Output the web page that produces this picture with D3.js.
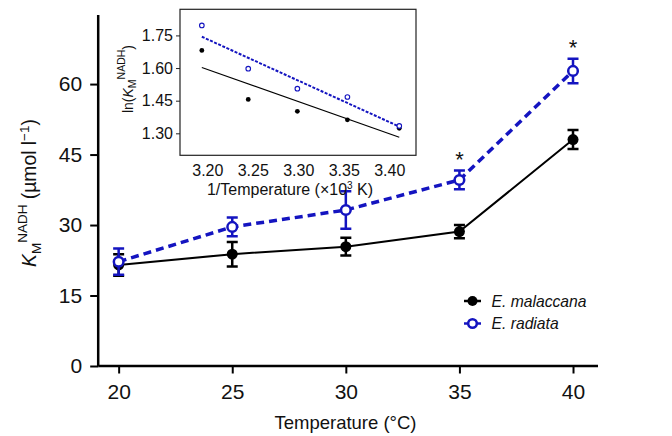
<!DOCTYPE html>
<html><head><meta charset="utf-8">
<script src="https://cdn.jsdelivr.net/npm/d3@7"></script>
<style>body{margin:0;background:#fff}svg{display:block;font-family:Arial,"Liberation Sans",sans-serif}</style>
</head><body><svg id="c" width="672" height="436"></svg>
<script>
// Main chart data
const temps = [20, 25, 30, 35, 40];
const malaccana = [21.5, 23.8, 25.4, 28.6, 48.2];
const malaccanaErr = [2.3, 2.6, 1.9, 1.4, 2.0];
const radiata = [22.2, 29.6, 33.2, 39.6, 62.8];
const radiataErr = [2.8, 2.0, 4.0, 2.0, 2.6];
const starAt = [35, 40];
const yTicks = [0, 15, 30, 45, 60];
const xTicks = [20, 25, 30, 35, 40];
// Inset data
const invT = [3.194, 3.245, 3.299, 3.354, 3.411];
const lnMal = [1.681, 1.456, 1.401, 1.362, 1.323];
const lnRad = [1.796, 1.597, 1.505, 1.467, 1.334];
const fitX = [3.194, 3.411];
const fitMal = [1.603, 1.282];
const fitRad = [1.744, 1.331];
const insetYTicks = [1.30, 1.45, 1.60, 1.75];
const insetXTicks = [3.20, 3.25, 3.30, 3.35, 3.40];

const BLUE = "#1414c0";
const svg = d3.select("#c");

const x = d3.scaleLinear().domain([19.1, 41.1]).range([98.2, 598]);
const y = d3.scaleLinear().domain([0, 74.7]).range([366, 15]);

// axes
const gx = svg.append("g").attr("transform", "translate(0,366)")
  .call(d3.axisBottom(x).tickValues(xTicks).tickSize(7.5).tickPadding(10.8).tickFormat(d3.format("d")));
gx.select(".domain").attr("stroke-width", 2.5).attr("d", `M${x.range()[0]},0H${x.range()[1]}`);
gx.selectAll(".tick line").attr("stroke-width", 2);
gx.selectAll("text").attr("font-size", 21).attr("fill", "#111");

const gy = svg.append("g").attr("transform", "translate(98.2,0)")
  .call(d3.axisLeft(y).tickValues(yTicks).tickSize(8).tickPadding(8));
gy.select(".domain").attr("stroke-width", 2.5).attr("d", `M0,${y.range()[0]}V${y.range()[1]}`);
gy.selectAll(".tick line").attr("stroke-width", 2);
gy.selectAll("text").attr("font-size", 21).attr("fill", "#111");

// axis titles
svg.append("text").attr("x", 345.5).attr("y", 429).attr("text-anchor", "middle")
  .attr("font-size", 18.5).attr("fill", "#111").text("Temperature (°C)");
const yl = svg.append("text").attr("transform", "translate(36,193) rotate(-90)")
  .attr("text-anchor", "middle").attr("font-size", 19.3).attr("fill", "#111");
yl.append("tspan").attr("font-style", "italic").text("K");
yl.append("tspan").attr("font-size", 13.5).attr("dy", 5).text("M");
yl.append("tspan").attr("font-size", 13.5).attr("dy", -14).text("NADH");
yl.append("tspan").attr("dy", 9).text(" (µmol l");
yl.append("tspan").attr("font-size", 13.5).attr("dy", -7).text("−1");
yl.append("tspan").attr("dy", 7).text(")");

// series
function series(vals, errs, color, open, dash, lw) {
  const line = d3.line().x((d, i) => x(temps[i])).y(d => y(d));
  svg.append("path").datum(vals).attr("d", line).attr("fill", "none")
    .attr("stroke", color).attr("stroke-width", lw).attr("stroke-dasharray", dash);
  const g = svg.append("g");
  vals.forEach((v, i) => {
    const cx = x(temps[i]);
    g.append("path").attr("d",
      `M${cx},${y(v + errs[i])}V${y(v - errs[i])}M${cx - 5.5},${y(v + errs[i])}H${cx + 5.5}M${cx - 5.5},${y(v - errs[i])}H${cx + 5.5}`)
      .attr("stroke", color).attr("stroke-width", 2.5).attr("fill", "none");
    g.append("circle").attr("cx", cx).attr("cy", y(v)).attr("r", open ? 4.8 : 5.5)
      .attr("fill", open ? "#fff" : color).attr("stroke", color).attr("stroke-width", open ? 2.5 : 0);
  });
}
series(malaccana, malaccanaErr, "#000", false, null, 2);
series(radiata, radiataErr, BLUE, true, "8,5", 3.5);

// asterisks
starAt.forEach(t => {
  const i = temps.indexOf(t);
  svg.append("text").attr("x", x(t)).attr("y", y(radiata[i] + radiataErr[i]) - 4)
    .attr("text-anchor", "middle").attr("font-size", 22).attr("fill", "#111").text("*");
});

// legend
const leg = [["E. malaccana", "#000", false], ["E. radiata", BLUE, true]];
leg.forEach((l, i) => {
  const ly = 301 + i * 22.5;
  svg.append("line").attr("x1", 464).attr("x2", 481).attr("y1", ly).attr("y2", ly)
    .attr("stroke", l[1]).attr("stroke-width", 2.5);
  svg.append("circle").attr("cx", 472.5).attr("cy", ly).attr("r", l[2] ? 4.3 : 5)
    .attr("fill", l[2] ? "#fff" : l[1]).attr("stroke", l[1]).attr("stroke-width", l[2] ? 2.5 : 0);
  svg.append("text").attr("x", 491.5).attr("y", ly + 5.5).attr("font-size", 15.7)
    .attr("font-style", "italic").attr("fill", "#111").text(l[0]);
});

// inset
const ix = d3.scaleLinear().domain([3.17, 3.4294]).range([180, 416]);
const iy = d3.scaleLinear().domain([1.199, 1.87]).range([155.3, 9.3]);
svg.append("rect").attr("x", 180).attr("y", 9.3).attr("width", 236).attr("height", 146)
  .attr("fill", "#fff").attr("stroke", "#222").attr("stroke-width", 1.2);
const igx = svg.append("g").attr("transform", "translate(0,155.3)")
  .call(d3.axisBottom(ix).tickValues(insetXTicks).tickSize(0).tickPadding(9.5).tickFormat(d3.format(".2f")));
igx.select(".domain").remove();
igx.selectAll("text").attr("font-size", 16).attr("fill", "#111");
const igy = svg.append("g").attr("transform", "translate(180,0)")
  .call(d3.axisLeft(iy).tickValues(insetYTicks).tickSize(4).tickPadding(3).tickFormat(d3.format(".2f")));
igy.select(".domain").remove();
igy.selectAll(".tick line").attr("stroke", "#222");
igy.selectAll("text").attr("font-size", 16).attr("fill", "#111");

svg.append("line").attr("x1", ix(fitX[0])).attr("x2", ix(fitX[1]))
  .attr("y1", iy(fitMal[0])).attr("y2", iy(fitMal[1])).attr("stroke", "#000").attr("stroke-width", 1.1);
svg.append("line").attr("x1", ix(fitX[0])).attr("x2", ix(fitX[1]))
  .attr("y1", iy(fitRad[0])).attr("y2", iy(fitRad[1])).attr("stroke", BLUE)
  .attr("stroke-width", 2).attr("stroke-dasharray", "3,1.5");
invT.forEach((t, i) => {
  svg.append("circle").attr("cx", ix(t)).attr("cy", iy(lnMal[i])).attr("r", 2.4).attr("fill", "#000");
  svg.append("circle").attr("cx", ix(t)).attr("cy", iy(lnRad[i])).attr("r", 2.3)
    .attr("fill", "#fff").attr("stroke", BLUE).attr("stroke-width", 1.1);
});
const ixl = svg.append("text").attr("x", 290).attr("y", 195).attr("text-anchor", "middle")
  .attr("font-size", 16).attr("fill", "#111");
ixl.append("tspan").text("1/Temperature (×10");
ixl.append("tspan").attr("font-size", 10).attr("dy", -6).text("3");
ixl.append("tspan").attr("dy", 6).text(" K)");
const iyl = svg.append("text").attr("transform", "translate(132.5,79) rotate(-90)")
  .attr("text-anchor", "middle").attr("font-size", 14).attr("fill", "#111");
iyl.append("tspan").text("ln(");
iyl.append("tspan").attr("font-style", "italic").text("K");
iyl.append("tspan").attr("font-size", 10.5).attr("dy", 3).text("M");
iyl.append("tspan").attr("font-size", 10.5).attr("dy", -11).text("NADH");
iyl.append("tspan").attr("dy", 8).text(")");
</script></body></html>
